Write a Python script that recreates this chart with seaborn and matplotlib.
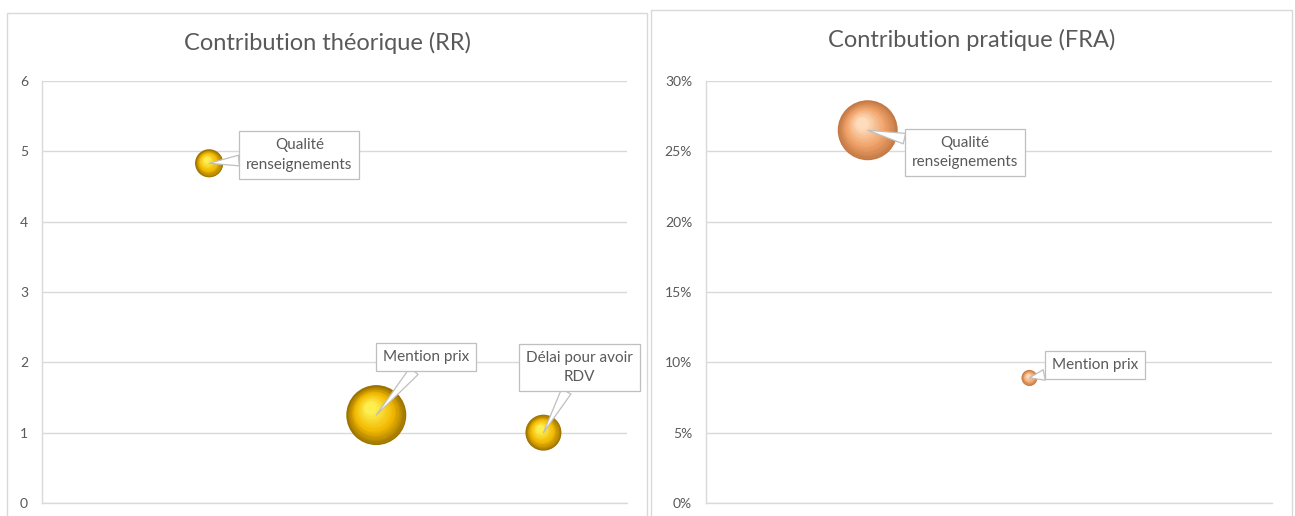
import matplotlib.pyplot as plt
import seaborn as sns
import numpy as np
import pandas as pd
from matplotlib.transforms import ScaledTranslation
from matplotlib.patches import Rectangle
from matplotlib.colors import to_rgb
from matplotlib.ticker import PercentFormatter, MultipleLocator

# --- data ---
criteres_rr = ["Qualité\nrenseignements", "Mention prix", "Délai pour avoir\nRDV"]
position_rr = [1, 2, 3]
valeur_rr = [4.83, 1.25, 1.0]
taille_rr = [22, 100, 36]

criteres_fra = ["Qualité\nrenseignements", "Mention prix"]
position_fra = [1, 2]
valeur_fra = [0.265, 0.089]
taille_fra = [100, 7]

# label offsets (points) from bubble centre
offsets_rr = [(65, 6), (36, 42), (26, 47)]
offsets_fra = [(70, -16), (47, 9)]

GREY_TXT = "#595959"
GRID = "#d9d9d9"

sns.set_theme(style="white")
plt.rcParams["font.family"] = ["Lato", "DejaVu Sans"]

fig = plt.figure(figsize=(12.95, 5.16), dpi=100)
W, H = 1295, 516

# panel frames
fig.patches.append(Rectangle((7 / W, -0.02), 640 / W, 1 - 13 / H + 0.02,
                             transform=fig.transFigure, fill=False,
                             ec=GRID, lw=1))
fig.patches.append(Rectangle((651 / W, -0.02), 641 / W, 1 - 10 / H + 0.02,
                             transform=fig.transFigure, fill=False,
                             ec=GRID, lw=1))

ax1 = fig.add_axes([42 / W, 13 / H, 585 / W, 422 / H])
ax2 = fig.add_axes([706 / W, 13 / H, 566 / W, 422 / H])

MAX_S = 1866  # marker area (pt^2) for the biggest bubble


def shade(c1, c2, t):
    a, b = np.array(to_rgb(c1)), np.array(to_rgb(c2))
    return a + (b - a) * t


def bubbles(ax, df, dark, mid, light):
    sizes = MAX_S * df["taille"] / df["taille"].max()
    sns.scatterplot(data=df, x="x", y="y", s=sizes.values, color=dark,
                    linewidth=0, legend=False, ax=ax, zorder=3)
    n = 16
    for k in range(1, n):
        f = 1 - 0.85 * k / n
        t = k / n
        col = shade(dark, mid, t * 2.5) if t < 0.4 else shade(mid, light, (t - 0.4) / 0.6)
        for xv, yv, s in zip(df["x"], df["y"], sizes):
            r = np.sqrt(s) / 2
            off = ScaledTranslation(-0.25 * (1 - f) * r / 72,
                                    0.30 * (1 - f) * r / 72,
                                    fig.dpi_scale_trans)
            ax.scatter([xv], [yv], s=s * f ** 2, color=col, linewidth=0,
                       transform=ax.transData + off, zorder=3)


def labels(ax, df, offsets):
    for (xv, yv, lab), (dx, dy) in zip(zip(df["x"], df["y"], df["label"]), offsets):
        ax.annotate(lab, xy=(xv, yv), xytext=(dx, dy), textcoords="offset points",
                    ha="center", va="center", fontsize=11, color=GREY_TXT,
                    linespacing=1.5,
                    bbox=dict(boxstyle="square,pad=0.45", fc="white",
                              ec="#bfbfbf", lw=0.9),
                    arrowprops=dict(arrowstyle="wedge,tail_width=0.7,shrink_factor=0.5",
                                    fc="white", ec="#bfbfbf", lw=0.9,
                                    shrinkA=0, shrinkB=0),
                    annotation_clip=False, zorder=6)


def style(ax):
    ax.set_xlim(0, 3.5)
    ax.set_xticks([])
    ax.set_xlabel("")
    ax.set_ylabel("")
    ax.yaxis.grid(True, color=GRID, lw=1)
    ax.set_axisbelow(True)
    for sp in ["top", "right"]:
        ax.spines[sp].set_visible(False)
    for sp in ["left", "bottom"]:
        ax.spines[sp].set_color(GRID)
        ax.spines[sp].set_linewidth(1)
    ax.tick_params(axis="y", length=0, pad=10, labelsize=10,
                   labelcolor=GREY_TXT)


df_rr = pd.DataFrame({"x": position_rr, "y": valeur_rr,
                      "taille": taille_rr, "label": criteres_rr})
df_fra = pd.DataFrame({"x": position_fra, "y": valeur_fra,
                       "taille": taille_fra, "label": criteres_fra})

bubbles(ax1, df_rr, "#9c7300", "#f2b800", "#fff55a")
labels(ax1, df_rr, offsets_rr)
style(ax1)
ax1.set_ylim(0, 6)
ax1.yaxis.set_major_locator(MultipleLocator(1))

bubbles(ax2, df_fra, "#c47a45", "#f0a36a", "#ffe2c4")
labels(ax2, df_fra, offsets_fra)
style(ax2)
ax2.set_ylim(0, 0.30)
ax2.yaxis.set_major_locator(MultipleLocator(0.05))
ax2.yaxis.set_major_formatter(PercentFormatter(1, decimals=0))

fig.text(327 / W, 1 - 43 / H, "Contribution théorique (RR)", ha="center",
         va="center", fontsize=17, color=GREY_TXT)
fig.text(972 / W, 1 - 40 / H, "Contribution pratique (FRA)", ha="center",
         va="center", fontsize=17, color=GREY_TXT)

fig.savefig("out.png", dpi=100, facecolor="white")
